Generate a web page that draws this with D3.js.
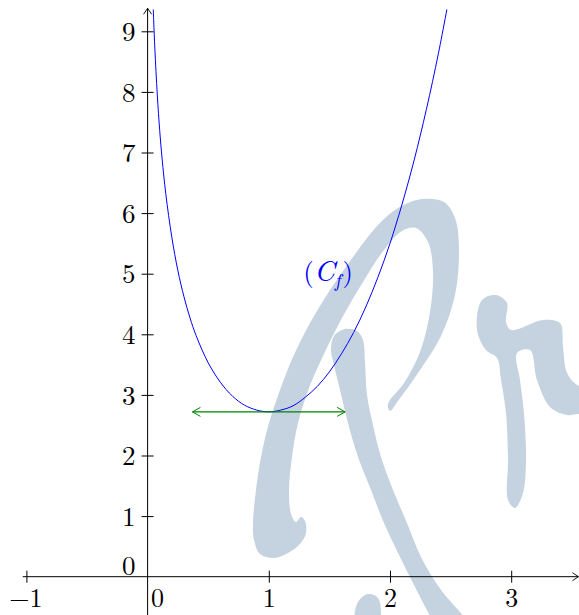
<!DOCTYPE html>
<html>
<head>
<meta charset="utf-8">
<script src="https://cdn.jsdelivr.net/npm/d3@7"></script>
<style>
  body { margin: 0; background: #fff; }
  svg { display: block; }
  text { font-family: "Latin Modern Roman", "CMU Serif", "Liberation Serif", serif; }
</style>
</head>
<body>
<script>
// values
var curveX = [0.04, 0.05, 0.06, 0.08, 0.10, 0.12, 0.15, 0.20, 0.25, 0.30, 0.35, 0.40, 0.50, 0.60, 0.70, 0.80, 0.90,
              1.00, 1.10, 1.20, 1.30, 1.40, 1.50, 1.60, 1.70, 1.80, 1.90, 2.00, 2.10, 2.20, 2.30, 2.40, 2.50];
var curveY = [9.79, 9.19, 8.71, 7.95, 7.36, 6.89, 6.32, 5.60, 5.05, 4.62, 4.27, 3.98, 3.53, 3.21, 2.98, 2.83, 2.75,
              2.72, 2.75, 2.82, 2.96, 3.14, 3.38, 3.68, 4.03, 4.45, 4.94, 5.50, 6.15, 6.88, 7.71, 8.64, 9.69];
var xTicks = [-1, 0, 1, 2, 3];
var yTicks = [0, 1, 2, 3, 4, 5, 6, 7, 8, 9];
var tangentX = [0.37, 1.63];
var tangentY = 2.72;

// background watermark outlines (pixels)
var wmArch = [[422,199],[444,202],[455,218],[459,250],[455,295],[441,336],[418,373],[398,401],[390,411],[388,404],
  [404,383],[420,352],[430,312],[433,272],[428,242],[416,228],[402,231],[384,250],[363,282],[342,318],[324,354],
  [309,388],[298,423],[292,457],[289,490],[291,514],[296,522],[301,517],[305,521],[306,533],[300,544],[288,553],
  [274,558],[260,554],[254,540],[253,523],[256,490],[261,457],[269,423],[280,390],[293,357],[310,323],[330,290],
  [353,257],[378,225],[398,208]];
var wmStroke = [[331,350],[334,336],[345,329],[357,331],[363,340],[365,362],[367,395],[373,425],[381,457],[393,490],
  [407,523],[421,557],[441,590],[465,618],[480,640],[445,640],[428,612],[414,585],[400,557],[384,523],[371,490],
  [358,457],[348,423],[340,390],[334,365]];
var wmBlob = [[354,620],[358,602],[368,594],[378,598],[381,620],[378,640],[356,640]];
var wmR = [[482,300],[496,295],[507,303],[506,322],[511,330],[543,320],[560,323],[563,347],[567,373],[577,385],
  [595,392],[595,416],[579,414],[567,415],[550,407],[537,380],[530,350],[517,353],[520,380],[524,413],[526,460],
  [523,493],[515,508],[508,500],[508,460],[506,413],[501,380],[497,358],[486,350],[477,330]];

var width = 579, height = 615;

var x = d3.scaleLinear().domain([-1, 3]).range([26.4, 511.2]);
var y = d3.scaleLinear().domain([0, 9]).range([576.7, 31.3]);

var svg = d3.select("body").append("svg")
    .attr("width", width)
    .attr("height", height);

var defs = svg.append("defs");
defs.append("marker")
    .attr("id", "axisArrow")
    .attr("markerUnits", "userSpaceOnUse")
    .attr("viewBox", "-8 -5 10 10")
    .attr("markerWidth", 10).attr("markerHeight", 10)
    .attr("refX", 0).attr("refY", 0)
    .attr("orient", "auto")
  .append("path")
    .attr("d", "M-6,-4 L0,0 L-6,4")
    .attr("fill", "none").attr("stroke", "#000").attr("stroke-width", 0.9);
defs.append("marker")
    .attr("id", "greenArrow")
    .attr("markerUnits", "userSpaceOnUse")
    .attr("viewBox", "-10 -6 12 12")
    .attr("markerWidth", 12).attr("markerHeight", 12)
    .attr("refX", 0).attr("refY", 0)
    .attr("orient", "auto-start-reverse")
  .append("path")
    .attr("d", "M-8,-4.5 L0,0 L-8,4.5")
    .attr("fill", "none").attr("stroke", "#008000").attr("stroke-width", 1);
defs.append("clipPath").attr("id", "plotClip")
  .append("rect")
    .attr("x", 0).attr("y", y(9.36))
    .attr("width", width).attr("height", height);

// watermark
var outline = d3.line().curve(d3.curveCatmullRomClosed);
var wm = svg.append("g").attr("fill", "#c5d3e1");
[wmArch, wmStroke, wmBlob, wmR].forEach(function(pts) {
  wm.append("path").attr("d", outline(pts));
});

// axes
svg.append("line")
    .attr("x1", x(-1.03)).attr("x2", x(3.555))
    .attr("y1", y(0)).attr("y2", y(0))
    .attr("stroke", "#000").attr("stroke-width", 1)
    .attr("marker-end", "url(#axisArrow)");
svg.append("line")
    .attr("x1", x(0)).attr("x2", x(0))
    .attr("y1", height).attr("y2", y(9.38))
    .attr("stroke", "#000").attr("stroke-width", 1)
    .attr("marker-end", "url(#axisArrow)");

var fmt = function(d) { return d < 0 ? "\u2212" + (-d) : "" + d; };

var gx = svg.append("g")
    .attr("transform", "translate(0," + y(0) + ")")
    .call(d3.axisBottom(x).tickValues(xTicks).tickSize(6).tickFormat(fmt));
gx.select(".domain").remove();
gx.selectAll(".tick line").attr("y1", -6).attr("y2", 6).attr("stroke", "#000");
gx.selectAll(".tick text")
    .attr("y", 12).attr("font-size", 26).attr("fill", "#000");
gx.selectAll(".tick").filter(function(d) { return d === 0; })
    .each(function() {
      d3.select(this).select("line").remove();
      d3.select(this).select("text").attr("x", 9.5);
    });
gx.selectAll(".tick").filter(function(d) { return d < 0; })
    .select("text").attr("x", -1);

var gy = svg.append("g")
    .attr("transform", "translate(" + x(0) + ",0)")
    .call(d3.axisLeft(y).tickValues(yTicks).tickSize(6).tickFormat(fmt));
gy.select(".domain").remove();
gy.selectAll(".tick line").attr("x1", -6).attr("x2", 6).attr("stroke", "#000");
gy.selectAll(".tick text")
    .attr("x", -12).attr("dy", "0.34em").attr("font-size", 27).attr("fill", "#000");
gy.selectAll(".tick").filter(function(d) { return d === 0; })
    .each(function() {
      d3.select(this).select("line").remove();
      d3.select(this).select("text").attr("y", -11.5);
    });
// let the stylesheet font win over the axis defaults
svg.selectAll("g").filter(function() { return this.getAttribute("font-family"); })
    .attr("font-family", null).attr("font-size", null);

// curve
var points = curveX.map(function(d, i) { return [d, curveY[i]]; });
svg.append("path")
    .datum(points)
    .attr("clip-path", "url(#plotClip)")
    .attr("fill", "none")
    .attr("stroke", "#0000ff")
    .attr("stroke-width", 1)
    .attr("d", d3.line()
        .x(function(d) { return x(d[0]); })
        .y(function(d) { return y(d[1]); })
        .curve(d3.curveCatmullRom));

// horizontal tangent at the minimum
svg.append("line")
    .attr("x1", x(tangentX[0])).attr("x2", x(tangentX[1]))
    .attr("y1", y(tangentY)).attr("y2", y(tangentY))
    .attr("stroke", "#008000").attr("stroke-width", 1.1)
    .attr("marker-start", "url(#greenArrow)")
    .attr("marker-end", "url(#greenArrow)");

// curve name
var lbl = svg.append("text")
    .attr("x", x(1.49)).attr("y", y(5.03) + 9)
    .attr("text-anchor", "middle")
    .attr("font-size", 27)
    .attr("fill", "#0000ff");
lbl.append("tspan").text("(");
lbl.append("tspan").attr("font-style", "italic").attr("font-size", 29).text("C");
lbl.append("tspan").attr("font-style", "italic").attr("font-size", 19).attr("dy", 6).text("f");
lbl.append("tspan").attr("dx", 2).attr("dy", -6).text(")");
</script>
</body>
</html>
